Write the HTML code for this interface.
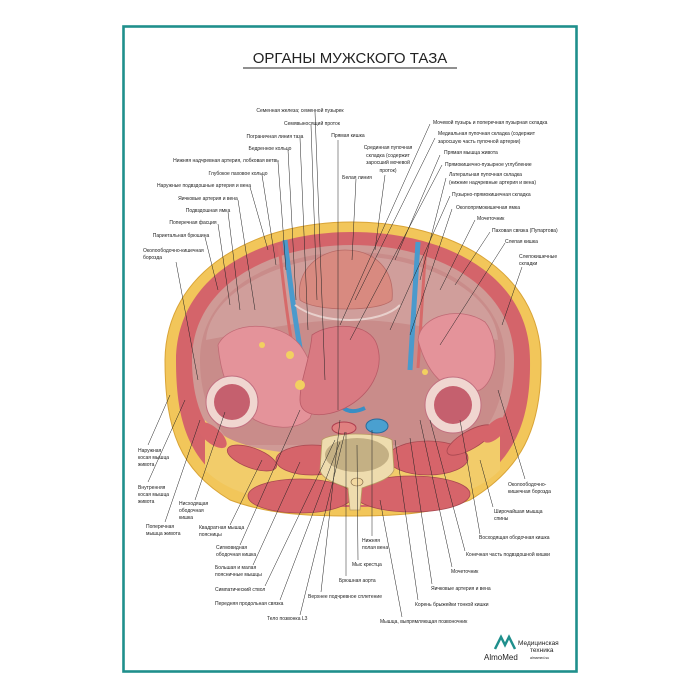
<!DOCTYPE html>
<html><head><meta charset="utf-8"><style>
html,body{margin:0;padding:0;background:#fff;}
svg{display:block;}
text{font-family:"Liberation Sans",sans-serif;fill:#222;}
.l{font-size:5px;}
</style></head><body>
<svg width="700" height="700" viewBox="0 0 700 700" xmlns="http://www.w3.org/2000/svg">
<rect x="0" y="0" width="700" height="700" fill="#fff"/>
<rect x="123.5" y="26.5" width="453" height="645" fill="none" stroke="#1f8f8c" stroke-width="2.6"/>
<text x="350" y="63" text-anchor="middle" style="font-size:15px;fill:#222">ОРГАНЫ МУЖСКОГО ТАЗА</text>
<line x1="243" y1="68" x2="457" y2="68" stroke="#222" stroke-width="1"/>

<!-- anatomy -->
<path d="M352,222 C450,222 540,270 541,360 C542,430 520,470 470,500 C430,515 390,516 352,516 C310,516 270,515 230,500 C180,470 165,430 165,360 C166,270 255,222 352,222 Z" fill="#f2c65a" stroke="#d9a437" stroke-width="1"/>
<path d="M352,232 C445,232 530,275 530,360 C531,425 512,462 466,490 C430,505 390,507 352,507 C312,507 272,505 236,490 C190,462 176,425 176,360 C177,275 260,232 352,232 Z" fill="#d4646a"/>
<path d="M352,245 C435,245 514,285 514,360 C514,410 495,440 470,452 L235,452 C210,440 192,410 192,360 C192,285 270,245 352,245 Z" fill="#cf9a96"/>
<path d="M352,252 C430,252 505,290 505,360 C505,400 490,430 470,445 L235,445 C215,430 200,400 200,360 C200,290 275,252 352,252 Z" fill="#c98c8a"/>
<path d="M352,256 C420,256 495,290 498,340 C440,330 400,320 352,320 C300,320 260,330 206,340 C210,290 285,256 352,256 Z" fill="#d6aaa6" opacity="0.6"/>
<!-- back region fat -->
<path d="M205,420 C230,450 280,455 352,455 C425,455 475,450 500,420 L500,470 C470,500 420,505 352,505 C285,505 235,500 205,470 Z" fill="#f2cc6a"/>
<!-- back muscles -->
<ellipse cx="300" cy="496" rx="52" ry="17" fill="#d6646a" stroke="#a84850" stroke-width="0.8"/>
<ellipse cx="412" cy="494" rx="58" ry="18" fill="#d6646a" stroke="#a84850" stroke-width="0.8"/>
<ellipse cx="312" cy="460" rx="36" ry="15" fill="#d6646a" stroke="#a84850" stroke-width="0.8"/>
<ellipse cx="428" cy="458" rx="40" ry="17" fill="#d6646a" stroke="#a84850" stroke-width="0.8"/>
<ellipse cx="252" cy="458" rx="26" ry="10" transform="rotate(20 252 458)" fill="#d6646a" stroke="#a84850" stroke-width="0.8"/>
<ellipse cx="470" cy="440" rx="26" ry="9" transform="rotate(-30 470 440)" fill="#d6646a" stroke="#a84850" stroke-width="0.8"/>
<ellipse cx="212" cy="435" rx="18" ry="8" transform="rotate(40 212 435)" fill="#d6646a"/>
<ellipse cx="495" cy="430" rx="16" ry="8" transform="rotate(-45 495 430)" fill="#d6646a"/>
<!-- vertebra -->
<path d="M322,440 C330,432 380,432 392,440 L394,470 C390,480 372,484 362,488 L360,510 L350,510 L348,488 C338,484 322,480 320,470 Z" fill="#eedcae" stroke="#b89a60" stroke-width="0.8"/>
<ellipse cx="357" cy="455" rx="32" ry="17" fill="#c4b084"/>
<ellipse cx="357" cy="482" rx="6" ry="4" fill="#f2d8a0" stroke="#7a6040" stroke-width="0.6"/>
<!-- vessels -->
<ellipse cx="344" cy="428" rx="12" ry="6" fill="#e08080" stroke="#b04050" stroke-width="1"/>
<ellipse cx="377" cy="426" rx="11" ry="7" fill="#4aa0d0" stroke="#2a6a9a" stroke-width="1"/>
<path d="M285,240 C292,300 298,340 305,375" stroke="#4a9acc" stroke-width="5" fill="none"/>
<path d="M279,245 C285,300 290,340 298,372" stroke="#d66a6a" stroke-width="3" fill="none"/>
<path d="M418,242 C414,300 412,340 410,370" stroke="#4a9acc" stroke-width="5" fill="none"/>
<path d="M426,245 C422,300 420,340 418,368" stroke="#d66a6a" stroke-width="3" fill="none"/>
<path d="M335,395 C340,410 350,415 365,408" stroke="#3a8ec4" stroke-width="4" fill="none"/>
<!-- bladder -->
<path d="M300,300 C295,270 320,250 345,250 C375,250 395,270 392,300 C380,312 315,312 300,300 Z" fill="#d88a80" stroke="#b86a66" stroke-width="0.8"/>
<path d="M295,305 C320,325 380,325 400,305" stroke="#e8d0cc" stroke-width="2" fill="none"/>
<!-- intestines -->
<path d="M218,345 C230,320 280,320 300,345 C315,365 320,395 310,418 C295,432 270,428 255,420 C240,410 222,390 218,345 Z" fill="#e4939a" stroke="#c06a75" stroke-width="0.8"/>
<path d="M312,335 C330,322 370,322 377,345 C385,370 370,395 345,408 C325,418 300,418 300,400 C300,380 310,360 312,335 Z" fill="#d97a82" stroke="#b85a66" stroke-width="0.8"/>
<path d="M418,340 C420,315 460,305 485,322 C500,340 498,380 480,390 C455,395 430,385 418,340 Z" fill="#e4939a" stroke="#c06a75" stroke-width="0.8"/>
<circle cx="232" cy="402" r="26" fill="#f0d6d0" stroke="#c27080" stroke-width="1"/>
<circle cx="232" cy="402" r="18" fill="#c5606e"/>
<circle cx="453" cy="405" r="28" fill="#f0d6d0" stroke="#c27080" stroke-width="1"/>
<circle cx="453" cy="405" r="19" fill="#c5606e"/>
<circle cx="290" cy="355" r="4" fill="#f2d060"/>
<circle cx="262" cy="345" r="3" fill="#f2d060"/>
<circle cx="425" cy="372" r="3" fill="#f2d060"/>
<circle cx="300" cy="385" r="5" fill="#f2d060"/>

<!-- leader lines -->
<g stroke="#222" stroke-width="0.5" fill="none">
<line x1="315" y1="112" x2="325" y2="380"/>
<line x1="311" y1="125" x2="317" y2="300"/>
<line x1="300" y1="138" x2="308" y2="330"/>
<line x1="288" y1="150" x2="296" y2="300"/>
<line x1="278" y1="162" x2="286" y2="270"/>
<line x1="262" y1="175" x2="276" y2="265"/>
<line x1="250" y1="187" x2="268" y2="250"/>
<line x1="238" y1="200" x2="255" y2="310"/>
<line x1="228" y1="212" x2="240" y2="310"/>
<line x1="218" y1="224" x2="230" y2="305"/>
<line x1="205" y1="237" x2="218" y2="290"/>
<line x1="176" y1="262" x2="198" y2="380"/>
<line x1="338" y1="140" x2="338" y2="410"/>
<line x1="356" y1="179" x2="352" y2="260"/>
<line x1="385" y1="175" x2="375" y2="250"/>
<line x1="430" y1="124" x2="340" y2="325"/>
<line x1="435" y1="138" x2="355" y2="300"/>
<line x1="440" y1="155" x2="395" y2="260"/>
<line x1="442" y1="165" x2="350" y2="340"/>
<line x1="446" y1="178" x2="420" y2="280"/>
<line x1="450" y1="196" x2="390" y2="330"/>
<line x1="452" y1="209" x2="410" y2="335"/>
<line x1="475" y1="220" x2="440" y2="290"/>
<line x1="490" y1="232" x2="455" y2="285"/>
<line x1="505" y1="243" x2="440" y2="345"/>
<line x1="522" y1="267" x2="502" y2="325"/>
<line x1="148" y1="445" x2="170" y2="395"/>
<line x1="148" y1="482" x2="185" y2="400"/>
<line x1="165" y1="522" x2="200" y2="420"/>
<line x1="195" y1="500" x2="225" y2="412"/>
<line x1="230" y1="525" x2="262" y2="460"/>
<line x1="240" y1="545" x2="300" y2="410"/>
<line x1="253" y1="565" x2="300" y2="462"/>
<line x1="265" y1="586" x2="335" y2="440"/>
<line x1="280" y1="600" x2="340" y2="442"/>
<line x1="300" y1="615" x2="345" y2="432"/>
<line x1="321" y1="592" x2="340" y2="420"/>
<line x1="346" y1="576" x2="346" y2="432"/>
<line x1="358" y1="560" x2="357" y2="445"/>
<line x1="372" y1="536" x2="372" y2="430"/>
<line x1="402" y1="617" x2="380" y2="500"/>
<line x1="418" y1="600" x2="395" y2="440"/>
<line x1="432" y1="584" x2="410" y2="438"/>
<line x1="452" y1="567" x2="420" y2="420"/>
<line x1="465" y1="551" x2="430" y2="420"/>
<line x1="480" y1="534" x2="460" y2="420"/>
<line x1="493" y1="507" x2="480" y2="460"/>
<line x1="525" y1="479" x2="498" y2="390"/>
</g>

<!-- labels -->
<g class="l">
<text x="300" y="112" text-anchor="middle">Семенная железа; семенной пузырек</text>
<text x="312" y="125" text-anchor="middle">Семявыносящий проток</text>
<text x="275" y="138" text-anchor="middle">Пограничная линия таза</text>
<text x="270" y="150" text-anchor="middle">Бедренное кольцо</text>
<text x="226" y="162" text-anchor="middle">Нижняя надчревная артерия, лобковая ветвь</text>
<text x="238" y="175" text-anchor="middle">Глубокое паховое кольцо</text>
<text x="204" y="187" text-anchor="middle">Наружные подвздошные артерия и вена</text>
<text x="208" y="200" text-anchor="middle">Яичковые артерия и вена</text>
<text x="208" y="212" text-anchor="middle">Подвздошная ямка</text>
<text x="193" y="224" text-anchor="middle">Поперечная фасция</text>
<text x="181" y="237" text-anchor="middle">Париетальная брюшина</text>
<text x="143" y="252">Околоободочно-кишечная</text>
<text x="143" y="259">борозда</text>
<text x="348" y="137" text-anchor="middle">Прямая кишка</text>
<text x="388" y="149" text-anchor="middle">Срединная пупочная</text>
<text x="388" y="157" text-anchor="middle">складка (содержит</text>
<text x="388" y="164" text-anchor="middle">заросший мочевой</text>
<text x="388" y="172" text-anchor="middle">проток)</text>
<text x="357" y="179" text-anchor="middle">Белая линия</text>
<text x="433" y="124">Мочевой пузырь и поперечная пузырная складка</text>
<text x="438" y="135">Медиальная пупочная складка (содержит</text>
<text x="438" y="143">заросшую часть пупочной артерии)</text>
<text x="444" y="154">Прямая мышца живота</text>
<text x="445" y="166">Прямокишечно-пузырное углубление</text>
<text x="449" y="176">Латеральная пупочная складка</text>
<text x="449" y="184">(нижние надчревные артерия и вена)</text>
<text x="452" y="196">Пузырно-прямокишечная складка</text>
<text x="456" y="209">Околопрямокишечная ямка</text>
<text x="477" y="220">Мочеточник</text>
<text x="492" y="232">Паховая связка (Пупартова)</text>
<text x="505" y="243">Слепая кишка</text>
<text x="519" y="258">Слепокишечные</text>
<text x="519" y="265">складки</text>

<text x="138" y="452">Наружная</text>
<text x="138" y="459">косая мышца</text>
<text x="138" y="466">живота</text>
<text x="138" y="489">Внутренняя</text>
<text x="138" y="496">косая мышца</text>
<text x="138" y="503">живота</text>
<text x="179" y="505">Нисходящая</text>
<text x="179" y="512">ободочная</text>
<text x="179" y="519">кишка</text>
<text x="146" y="528">Поперечная</text>
<text x="146" y="535">мышца живота</text>
<text x="199" y="529">Квадратная мышца</text>
<text x="199" y="536">поясницы</text>
<text x="216" y="549">Сигмовидная</text>
<text x="216" y="556">ободочная кишка</text>
<text x="215" y="569">Большая и малая</text>
<text x="215" y="576">поясничные мышцы</text>
<text x="215" y="591">Симпатический ствол</text>
<text x="215" y="605">Передняя продольная связка</text>
<text x="267" y="620">Тело позвонка L3</text>
<text x="308" y="598">Верхнее подчревное сплетение</text>
<text x="339" y="582">Брюшная аорта</text>
<text x="352" y="566">Мыс крестца</text>
<text x="362" y="542">Нижняя</text>
<text x="362" y="549">полая вена</text>
<text x="380" y="623">Мышца, выпрямляющая позвоночник</text>
<text x="415" y="606">Корень брыжейки тонкой кишки</text>
<text x="431" y="590">Яичковые артерия и вена</text>
<text x="451" y="573">Мочеточник</text>
<text x="466" y="556">Конечная часть подвздошной кишки</text>
<text x="479" y="539">Восходящая ободочная кишка</text>
<text x="494" y="513">Широчайшая мышца</text>
<text x="494" y="520">спины</text>
<text x="508" y="486">Околоободочно-</text>
<text x="508" y="493">кишечная борозда</text>
</g>

<!-- logo -->
<path d="M495,649 L501,637 L505,645 L509,637 L515,649" stroke="#1f8f8c" stroke-width="2.5" fill="none"/>
<text x="484" y="660" style="font-size:8px">AlmoMed</text>
<text x="518" y="645" style="font-size:6.5px">Медицинская</text>
<text x="530" y="652" style="font-size:6.5px">техника</text>
<text x="530" y="659" style="font-size:3.5px">almamed.su</text>
</svg>
</body></html>
